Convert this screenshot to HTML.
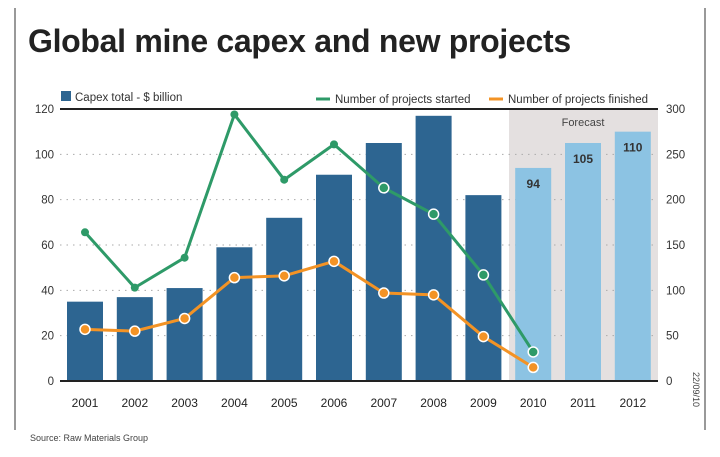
<!DOCTYPE html>
<html><head><meta charset="utf-8"><style>
body{margin:0;background:#fff;width:720px;height:457px;overflow:hidden;font-family:"Liberation Sans",sans-serif}
</style></head><body>
<svg id="c" width="720" height="457" style="display:block">
<line x1="15" y1="8" x2="15" y2="430" stroke="#999" stroke-width="2"/>
<line x1="705" y1="8" x2="705" y2="430" stroke="#999" stroke-width="2"/>
<text x="28" y="52" font-size="32" font-weight="bold" fill="#222" style="letter-spacing:-0.3px">Global mine capex and new projects</text>
<rect x="509" y="108" width="149" height="273" fill="#e4e0e0"/>
<text x="583" y="126" font-size="11" fill="#444" text-anchor="middle">Forecast</text>
<g id="grid"></g><g id="bars"></g><g id="lines"></g><g id="axes"></g>
<rect x="61" y="91" width="10" height="10" fill="#2d6591"/>
<text x="75" y="101" font-size="11.5" fill="#333">Capex total - $ billion</text>
<line x1="316" y1="99" x2="330" y2="99" stroke="#2e9a68" stroke-width="3"/>
<text x="335" y="103" font-size="11.5" fill="#333">Number of projects started</text>
<line x1="489" y1="99" x2="503" y2="99" stroke="#f39325" stroke-width="3"/>
<text x="508" y="103" font-size="11.5" fill="#333">Number of projects finished</text>
<text x="30" y="441" font-size="9" fill="#444">Source: Raw Materials Group</text>
<text transform="translate(693,372) rotate(90)" font-size="9" fill="#444">22/09/10</text>
</svg>
<script>
const years=["2001","2002","2003","2004","2005","2006","2007","2008","2009","2010","2011","2012"];
const capex=[35,37,41,59,72,91,105,117,82,94,105,110];
const started=[164,103,136,294,222,261,213,184,117,32];
const finished=[57,55,69,114,116,132,97,95,49,15];
const leftTicks=[0,20,40,60,80,100,120];
const rightTicks=[0,50,100,150,200,250,300];
const forecastLabels=["94","105","110"];
const NS="http://www.w3.org/2000/svg";
const X0=60,STEP=49.8,Y0=381,H=272;
const xc=i=>X0+25+i*STEP;
const yl=v=>Y0-v/120*H;
const yr=v=>Y0-v/300*H;
function mk(t,a,p){const e=document.createElementNS(NS,t);for(const k in a)e.setAttribute(k,a[k]);document.getElementById(p).appendChild(e);return e;}
leftTicks.forEach(v=>{
 if(v>0&&v<120){const g=mk('line',{x1:X0,x2:658,y1:yl(v),y2:yl(v),stroke:'#aaa','stroke-dasharray':'1.5,5'},'grid');
 
 }
 const t=mk('text',{x:54,y:yl(v)+4,'font-size':11.5,fill:'#333','text-anchor':'end'},'axes');t.textContent=v;
 
 
});
rightTicks.forEach(v=>{const t=mk('text',{x:666,y:yr(v)+4,'font-size':11.5,fill:'#333'},'axes');t.textContent=v;
 
 });
capex.forEach((v,i)=>{
 const b=mk('rect',{x:xc(i)-18,y:yl(v),width:36,height:yl(0)-yl(v),fill:i>=9?'#8cc3e3':'#2d6591'},'bars');
 
 
 if(i>=9){const t=mk('text',{x:xc(i),y:yl(v)+20,'font-size':12,'font-weight':'bold',fill:'#333','text-anchor':'middle'},'bars');t.textContent=forecastLabels[i-9];
 
 }
 const t=mk('text',{x:xc(i),y:407,'font-size':12,fill:'#222','text-anchor':'middle'},'axes');t.textContent=years[i];
 
 
});
function series(arr,col,name){
 const p=mk('polyline',{points:arr.map((v,i)=>xc(i)+','+yr(v)).join(' '),fill:'none',stroke:col,'stroke-width':3,'stroke-linejoin':'round'},'lines');
 
 
 arr.forEach((v,i)=>{const big=name==='finished'||i>=6;const c=mk('circle',{cx:xc(i),cy:yr(v),r:big?5:4,fill:col,stroke:big?'#fff':'none','stroke-width':1.5},'lines');
 
 });
}
series(started,'#2e9a68','started');
series(finished,'#f39325','finished');
const topRule=mk('line',{x1:X0,x2:658,y1:109,y2:109,stroke:'#222','stroke-width':2},'axes');


const xAxisLine=mk('line',{x1:X0,x2:658,y1:Y0,y2:Y0,stroke:'#222','stroke-width':2},'axes');


</script>
</body></html>
